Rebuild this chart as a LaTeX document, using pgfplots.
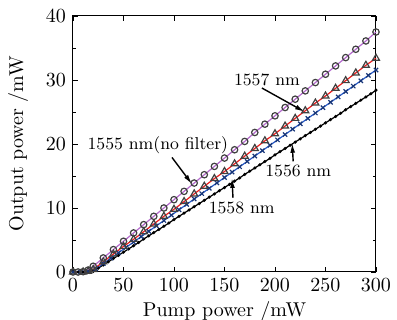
\documentclass[border=0pt]{standalone}
\usepackage{pgfplots}
\pgfplotsset{compat=1.18}
\usetikzlibrary{arrows.meta}
\definecolor{cpurple}{RGB}{180,105,205}
\definecolor{cred}{RGB}{235,30,30}
\definecolor{cblue}{RGB}{40,90,200}
\begin{document}
\begin{tikzpicture}
\begin{axis}[
  name=ax, at={(0,0)}, anchor=south west,
  scale only axis, width=151.5pt, height=128pt,
  xmin=0, xmax=300, ymin=0, ymax=40,
  xtick={0,50,...,300}, ytick={0,10,...,40},
  minor ytick={5,15,25,35},
  major tick length=2.5pt, minor tick length=1.5pt,
  tick style={black, line width=0.4pt},
  xlabel={Pump power /mW}, ylabel={Output power /mW},
  xlabel style={yshift=2.2pt},
  ylabel style={yshift=2pt},
  tick label style={font=\fontsize{10}{12}\selectfont},
  label style={font=\fontsize{10}{12}\selectfont},
  axis line style={line width=0.5pt},
  clip=false,
]
% 1556 nm (black dots)
\addplot[black, line width=0.6pt, mark=*, mark size=0.45pt] coordinates {
(0,0)(5,0)(10,0)(15,0.02)(20,0.1)(25,0.6)(30,1.1)(35,1.6)(40,2.1)(45,2.6)(50,3.1)(55,3.6)(60,4.1)(65,4.6)(70,5.15)(75,5.65)(80,6.15)(85,6.65)(90,7.15)(95,7.65)(100,8.2)(105,8.7)(110,9.2)(115,9.7)(120,10.2)(125,10.7)(130,11.2)(135,11.7)(140,12.2)(145,12.7)(150,13.2)(155,13.7)(160,14.2)(165,14.7)(170,15.25)(175,15.75)(180,16.25)(185,16.75)(190,17.25)(195,17.75)(200,18.3)(205,18.8)(210,19.3)(215,19.8)(220,20.3)(225,20.8)(230,21.3)(235,21.8)(240,22.3)(245,22.8)(250,23.3)(255,23.8)(260,24.3)(265,24.8)(270,25.35)(275,25.85)(280,26.35)(285,26.85)(290,27.35)(295,27.85)(300,28.4)
};
% 1558 nm (blue crosses)
\addplot[cblue, line width=0.6pt, mark=x, mark size=1.5pt, mark options={draw=cblue!60!black}] coordinates {
(0,0)(7.5,0)(15,0.05)(22.5,0.48)(30,1.32)(37.5,2.16)(45,3.0)(52.5,3.84)(60,4.68)(67.5,5.52)(75,6.36)(82.5,7.2)(90,8.04)(97.5,8.88)(105,9.72)(112.5,10.56)(120,11.4)(127.5,12.24)(135,13.08)(142.5,13.92)(150,14.76)(157.5,15.6)(165,16.44)(172.5,17.28)(180,18.12)(187.5,18.96)(195,19.8)(202.5,20.64)(210,21.48)(217.5,22.32)(225,23.16)(232.5,24.0)(240,24.84)(247.5,25.68)(255,26.52)(262.5,27.36)(270,28.2)(277.5,29.04)(285,29.88)(292.5,30.72)(300,31.56)
};
% 1557 nm (red triangles)
\addplot[cred, line width=0.6pt, mark=triangle, mark size=2pt, mark options={draw=black!75, solid}] coordinates {
(0,0)(10,0)(15,0.1)(20,0.4)(30,1.6)(40,2.8)(50,4.0)(60,5.1)(70,6.3)(80,7.5)(90,8.7)(100,9.8)(110,11.0)(120,12.2)(130,13.4)(140,14.6)(150,15.7)(160,16.9)(170,18.1)(180,19.3)(190,20.5)(200,21.6)(210,22.8)(220,24.0)(230,25.2)(240,26.4)(250,27.5)(260,28.7)(270,29.9)(280,31.1)(290,32.3)(300,33.4)
};
% 1555 nm no filter (purple circles)
\addplot[cpurple, line width=0.6pt, mark=o, mark size=1.6pt, mark options={draw=black!75}] coordinates {
(0,0)(5,0)(10,0.05)(15,0.3)(20,0.9)(30,2.2)(40,3.5)(50,4.8)(60,6.1)(70,7.4)(80,8.7)(90,10.0)(100,11.3)(110,12.6)(120,13.9)(130,15.2)(140,16.5)(150,17.8)(160,19.1)(170,20.4)(180,21.8)(190,23.1)(200,24.4)(210,25.7)(220,27.0)(230,28.3)(240,29.6)(250,30.9)(260,32.2)(270,33.5)(280,34.8)(290,36.1)(300,37.5)
};
\begin{scope}[font=\fontsize{8.6}{10}\selectfont]
\node at (axis cs:192,30.0) {1557 nm};
\node at (axis cs:84,19.8) {1555 nm(no filter)};
\node at (axis cs:223,15.8) {1556 nm};
\node at (axis cs:167,10.0) {1558 nm};
\end{scope}
\begin{scope}[line width=0.7pt, -{Latex[length=5pt,width=2.4pt]}]
\draw (axis cs:187,28.75) -- (axis cs:229.7,25.0);
\draw (axis cs:98,17.9) -- (axis cs:118,13.7);
\draw (axis cs:218,17.3) -- (axis cs:217,20.2);
\draw (axis cs:158.4,11.6) -- (axis cs:157.4,14.7);
\end{scope}
\end{axis}
\pgfresetboundingbox
\path[use as bounding box] (-36.5pt,-24pt) rectangle (162pt,136pt);
\end{tikzpicture}
\end{document}
